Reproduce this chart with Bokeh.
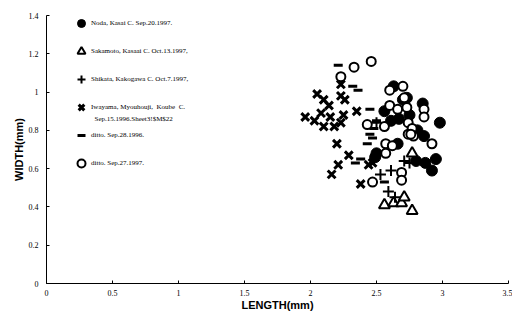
from bokeh.plotting import figure
from bokeh.models import Range1d, Legend, LegendItem, Label, FixedTicker
from bokeh.embed import file_html
from bokeh.resources import INLINE

# ---- data ----
noda_x = [2.63, 2.56, 2.85, 2.98, 2.67, 2.61, 2.75, 2.81, 2.49, 2.66, 2.50, 2.86, 2.95, 2.87, 2.92, 2.80, 2.70, 2.73]
noda_y = [1.03, 0.90, 0.94, 0.84, 0.86, 0.85, 0.88, 0.80, 0.66, 0.73, 0.68, 0.77, 0.65, 0.63, 0.59, 0.64, 0.96, 0.97]

saka_x = [2.56, 2.63, 2.69, 2.77, 2.71, 2.77]
saka_y = [0.41, 0.42, 0.42, 0.38, 0.45, 0.68]

shik_x = [2.71, 2.75, 2.53, 2.61, 2.59, 2.64, 2.50]
shik_y = [0.64, 0.63, 0.57, 0.59, 0.48, 0.45, 0.84]

iway_x = [2.23, 2.05, 1.96, 2.03, 2.10, 2.14, 2.23, 2.26, 2.10, 2.18, 2.23, 2.15, 2.35, 2.08, 2.25,
          2.20, 2.29, 2.21, 2.16, 2.38, 2.44, 2.47]
iway_y = [1.04, 0.99, 0.87, 0.85, 0.96, 0.93, 0.98, 0.96, 0.82, 0.82, 0.84, 0.87, 0.90, 0.89, 0.88,
          0.73, 0.67, 0.62, 0.57, 0.52, 0.62, 0.63]

d96_x = [2.21, 2.32, 2.36, 2.45, 2.45, 2.43, 2.47, 2.34, 2.38, 2.50, 2.48, 2.56]
d96_y = [1.14, 1.03, 1.01, 0.91, 0.78, 0.73, 0.76, 0.63, 0.65, 0.85, 0.81, 0.53]

d97_x = [2.46, 2.33, 2.23, 2.60, 2.70, 2.71, 2.60, 2.66, 2.73, 2.86, 2.86, 2.43, 2.56, 2.74, 2.77,
         2.74, 2.78, 2.57, 2.62, 2.57, 2.76, 2.92, 2.69, 2.69, 2.47]
d97_y = [1.16, 1.13, 1.08, 1.01, 1.03, 0.97, 0.93, 0.91, 0.92, 0.91, 0.87, 0.83, 0.82, 0.84, 0.81,
         0.78, 0.77, 0.73, 0.72, 0.68, 0.78, 0.73, 0.58, 0.54, 0.53]

labels = ["Noda, Kasai C. Sep.20.1997.",
          "Sakamoto, Kasaai C. Oct.13.1997,",
          "Shikata, Kakogawa C. Oct.7.1997,",
          "Iwayama, Myouhouji,  Koube  C.",
          "ditto. Sep.28.1996.",
          "ditto. Sep.27.1997."]
label_line2 = "Sep.15.1996.Sheet3!$M$22"

x_ticks = [0, 0.5, 1, 1.5, 2, 2.5, 3, 3.5]
y_ticks = [0, 0.2, 0.4, 0.6, 0.8, 1.0, 1.2, 1.4]

p = figure(width=512, height=320, output_backend="svg", toolbar_location=None,
           x_range=Range1d(0, 3.5), y_range=Range1d(0, 1.4),
           min_border_left=46, min_border_right=4, min_border_top=15, min_border_bottom=37)
p.outline_line_color = None
p.grid.visible = False

for ax in (p.xaxis[0], p.yaxis[0]):
    ax.axis_line_color = "black"
    ax.major_tick_in = 3
    ax.major_tick_out = 0
    ax.minor_tick_in = 0
    ax.minor_tick_out = 0
    ax.major_tick_line_color = "black"
    ax.major_label_text_font = "Liberation Serif"
    ax.major_label_text_font_size = "8px"
    ax.major_label_text_color = "black"
    ax.axis_label_text_font = "Liberation Sans"
    ax.axis_label_text_font_style = "bold"
    ax.axis_label_text_font_size = "11px"
    ax.axis_label_text_color = "black"

p.xaxis.ticker = FixedTicker(ticks=x_ticks)
p.yaxis.ticker = FixedTicker(ticks=y_ticks)
p.xaxis.major_label_overrides = {0: "0", 1: "1", 2: "2", 3: "3"}
p.yaxis.major_label_overrides = {0: "0", 1: "1"}
p.xaxis.axis_label = "LENGTH(mm)"
p.yaxis.axis_label = "WIDTH(mm)"
p.xaxis.major_label_standoff = 6
p.xaxis.axis_label_standoff = 0
p.yaxis.major_label_standoff = 8
p.yaxis.axis_label_standoff = 1

r1 = p.scatter(noda_x, noda_y, marker="circle", size=11, fill_color="black", line_color="black")
r2 = p.scatter(saka_x, saka_y, marker="triangle", size=11, fill_color="white", line_color="black", line_width=2)
r3 = p.scatter(shik_x, shik_y, marker="cross", size=11, line_color="black", line_width=2)
r4 = p.scatter(iway_x, iway_y, marker="x", size=11, line_color="black", line_width=3)
r5 = p.scatter(d96_x, d96_y, marker="dash", size=9, line_color="black", line_width=3)
r6 = p.scatter(d97_x, d97_y, marker="circle", size=9, fill_color="white", line_color="black", line_width=2)

items = [LegendItem(label=lab, renderers=[r]) for lab, r in zip(labels, [r1, r2, r3, r4, r5, r6])]
legend = Legend(items=items, location=(25, 110), orientation="vertical",
                glyph_width=20, glyph_height=20, label_height=20, spacing=8,
                padding=0, margin=0, label_standoff=0,
                label_text_font="Liberation Serif", label_text_font_size="7px",
                label_text_color="black",
                border_line_color=None, background_fill_alpha=0)
p.add_layout(legend)

p.add_layout(Label(x=48, y=165, x_units="screen", y_units="screen", text=label_line2,
                   text_font="Liberation Serif", text_font_size="7px", text_color="black",
                   text_baseline="middle"))

open("out.html", "w").write(file_html(p, INLINE))
